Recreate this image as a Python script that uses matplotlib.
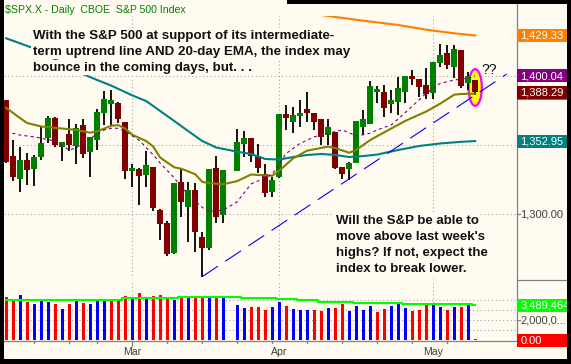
"""SPX daily candles (Feb-May 2008) with MAs, uptrend line and volume pane,
redrawn in the TeleChart look. Writes out.png (571x364)."""
import numpy as np
import pandas as pd
import matplotlib
matplotlib.use("Agg")
import matplotlib.pyplot as plt
from matplotlib.patches import Ellipse, Rectangle

plt.rcParams["font.family"] = ["Liberation Sans", "DejaVu Sans"]

# sessions Feb 5 - May 9 2008; the chart keeps an empty slot for Good Friday (Mar 21)
dates = pd.bdate_range("2008-02-05", "2008-05-09").drop(pd.Timestamp("2008-02-18"))
nan = np.nan

opens = [1382.6, 1342.2, 1325.3, 1339.3, 1332.8, 1341.6, 1355.0, 1369.4, 1348.9, 1358.1,
         1349.4, 1364.6, 1345.3, 1353.7, 1373.0, 1379.7, 1380.7, 1366.7, 1331.5, 1332.5,
         1328.4, 1334.4, 1303.1, 1293.9, 1272.2, 1323.4, 1305.5, 1317.6, 1283.4, 1275.4,
         1333.3, 1299.5, nan, 1331.3, 1350.6, 1355.0, 1342.2, 1329.1, 1316.3, 1327.2,
         1372.5, 1367.0, 1371.0, 1376.1, 1373.0, 1368.7, 1357.3, 1359.7, 1334.0, 1332.5,
         1337.3, 1363.3, 1365.1, 1388.6, 1388.6, 1379.7, 1381.4, 1388.6, 1400.0, 1397.6,
         1393.5, 1387.5, 1409.6, 1416.4, 1406.3, 1418.8, 1394.7, 1397.1]
highs = [1382.6, 1353.7, 1348.4, 1344.1, 1342.9, 1363.3, 1371.1, 1370.0, 1352.3, 1368.7,
         1365.3, 1368.7, 1356.0, 1375.9, 1389.2, 1389.9, 1381.0, 1366.7, 1336.4, 1333.3,
         1346.0, 1334.4, 1304.0, 1295.4, 1322.4, 1332.5, 1323.4, 1322.8, 1287.0, 1332.5,
         1342.4, 1332.0, nan, 1361.7, 1360.4, 1355.0, 1351.0, 1336.4, 1327.2, 1372.5,
         1379.0, 1377.4, 1382.6, 1388.6, 1373.0, 1368.7, 1368.7, 1359.7, 1334.0, 1338.0,
         1367.7, 1375.4, 1396.6, 1392.8, 1393.5, 1389.9, 1399.0, 1400.0, 1404.4, 1397.6,
         1405.6, 1410.3, 1423.1, 1422.4, 1422.4, 1418.8, 1403.1, 1397.1]
lows = [1337.3, 1324.3, 1316.3, 1321.2, 1320.5, 1339.3, 1351.3, 1348.4, 1338.8, 1346.0,
        1336.4, 1340.5, 1327.2, 1346.5, 1364.6, 1364.6, 1366.0, 1325.7, 1320.0, 1306.7,
        1320.0, 1302.6, 1281.4, 1269.8, 1271.5, 1298.3, 1280.2, 1273.0, 1254.9, 1274.5,
        1293.9, 1293.9, nan, 1331.0, 1341.6, 1338.0, 1329.6, 1312.7, 1312.7, 1326.5,
        1361.0, 1359.0, 1363.4, 1367.0, 1361.0, 1350.0, 1350.1, 1333.0, 1325.5, 1324.8,
        1337.0, 1357.3, 1365.0, 1380.3, 1370.6, 1373.0, 1371.8, 1380.7, 1393.5, 1384.6,
        1383.6, 1383.6, 1406.3, 1404.8, 1398.3, 1391.1, 1389.9, 1386.3]
closes = [1338.0, 1327.2, 1339.3, 1332.0, 1341.2, 1351.3, 1369.4, 1350.1, 1352.3, 1350.1,
          1362.2, 1343.6, 1355.7, 1374.2, 1383.4, 1382.6, 1368.7, 1331.5, 1333.7, 1327.7,
          1335.6, 1304.8, 1293.0, 1271.3, 1322.4, 1308.7, 1317.6, 1287.4, 1275.4, 1332.5,
          1298.3, 1332.0, nan, 1352.5, 1355.0, 1342.2, 1333.3, 1315.6, 1324.8, 1372.5,
          1369.4, 1371.9, 1373.0, 1373.5, 1367.0, 1356.1, 1362.9, 1333.7, 1329.1, 1336.9,
          1367.7, 1368.7, 1392.8, 1390.4, 1376.6, 1382.6, 1391.1, 1400.0, 1397.6, 1392.3,
          1387.0, 1410.3, 1415.2, 1408.0, 1419.3, 1392.8, 1400.0, 1388.29]

# volume in millions of shares, and its average (green line)
volumes = [4.33, 4.07, 4.53, 3.83, 3.60, 4.03, 3.80, 3.60, 3.10, 3.60,
           3.90, 3.73, 3.60, 3.90, 4.10, 3.93, 3.93, 4.43, 4.10, 4.73,
           4.23, 4.37, 4.50, 4.23, 4.00, 4.23, 4.27, 4.40, 4.23, 4.23,
           4.23, 4.23, nan, 3.53, 3.23, 3.33, 3.33, 3.03, 3.33, 3.83,
           3.43, 3.10, 3.03, 3.03, 3.03, 2.93, 3.20, 3.23, 3.63, 2.90,
           3.43, 3.03, 3.43, 2.83, 3.13, 3.43, 3.70, 3.20, 2.93, 3.03,
           3.63, 3.60, 3.33, 3.03, 3.33, 3.33, 3.73, 0.0]
vol_avg = [4.05, 4.05, 4.05, 4.05, 4.05, 4.05, 4.05, 4.05, 4.05, 4.05,
           4.05, 4.05, 4.05, 4.05, 4.05, 4.05, 4.05, 4.20, 4.20, 4.20,
           4.20, 4.20, 4.20, 4.20, 4.20, 4.33, 4.33, 4.33, 4.33, 4.33,
           4.33, 4.33, 4.33, 4.33, 4.25, 4.25, 4.25, 4.25, 4.25, 4.15,
           4.15, 4.08, 3.98, 3.98, 3.98, 3.82, 3.82, 3.82, 3.82, 3.82,
           3.72, 3.72, 3.72, 3.72, 3.72, 3.72, 3.72, 3.60, 3.60, 3.60,
           3.60, 3.60, 3.60, 3.60, 3.60, 3.60, 3.60, 3.489464]

# moving averages: (slot, value) vertices
ma50_x = [0, 4, 11, 13, 15, 18, 20, 22, 24, 26, 28, 30, 33, 35, 37, 39, 41, 43, 45,
          47, 49, 51, 53, 56, 59, 62, 65, 67]
ma50_y = [1427.3, 1419.9, 1401.4, 1397.1, 1393.1, 1386.0, 1381.9, 1374.7, 1367.5, 1360.2,
          1353.0, 1348.3, 1345.3, 1343.6, 1340.0, 1339.6, 1341.4, 1342.9, 1343.6, 1342.9,
          1341.4, 1342.1, 1343.2, 1346.5, 1349.4, 1351.2, 1352.4, 1352.95]
ema20_x = [0, 2, 3, 5, 8, 10, 12, 13, 15, 16, 17, 18, 20, 21, 22, 24, 25, 27, 28, 29,
           31, 33, 35, 36, 38, 39, 41, 43, 46, 47, 49, 50, 52, 53, 55, 57, 60, 62, 64, 65, 67]
ema20_y = [1377.0, 1369.5, 1366.0, 1363.5, 1362.0, 1361.0, 1359.0, 1360.0, 1364.0, 1364.5,
           1362.0, 1357.5, 1353.0, 1349.0, 1341.0, 1334.0, 1333.0, 1329.0, 1323.5, 1322.5,
           1321.7, 1324.0, 1328.8, 1328.4, 1327.9, 1331.5, 1340.5, 1346.0, 1349.0, 1347.9,
           1344.5, 1346.5, 1353.7, 1356.5, 1362.0, 1367.5, 1374.3, 1380.0, 1386.5, 1387.0, 1387.2]
ma10_x = [0, 2, 4, 5, 7, 9, 10, 12, 14, 15, 16, 17, 19, 21, 22, 24, 25, 28, 29, 31,
          33, 35, 37, 38, 40, 42, 44, 46, 48, 49, 50, 52, 53, 55, 57, 60, 62, 64, 66, 67]
ma10_y = [1359.7, 1357.3, 1356.0, 1355.0, 1353.0, 1346.5, 1348.0, 1355.0, 1361.0, 1362.2,
          1362.2, 1360.0, 1353.5, 1343.0, 1337.0, 1326.5, 1319.5, 1305.0, 1302.0, 1303.0,
          1309.0, 1322.0, 1326.5, 1329.0, 1344.0, 1351.3, 1356.0, 1358.6, 1361.0, 1359.0,
          1356.5, 1358.6, 1361.0, 1364.6, 1373.5, 1387.5, 1394.7, 1397.1, 1398.5, 1400.04]
ma200_x = [40, 46, 51, 56, 60, 64, 67]
ma200_y = [1448.0, 1443.4, 1440.0, 1436.9, 1433.5, 1430.9, 1429.33]

# intermediate-term uptrend line (from the March low)
trend_x = [28, 71.5]
trend_y = [1254.9, 1401.4]

CREAM = "#fffbf0"
W, H = 571, 364

o, h, l, c = (np.array(v, dtype=float) for v in (opens, highs, lows, closes))
vol = np.array(volumes, dtype=float)
x = np.arange(len(dates))
ok = ~np.isnan(c)
month_pos = [i for i in range(1, len(dates)) if dates[i].month != dates[i - 1].month]
week_pos = [i for i in range(1, len(dates)) if dates[i].week != dates[i - 1].week]

fig = plt.figure(figsize=(W / 100, H / 100), dpi=100, facecolor=CREAM)


def frame(x0, y0, x1, y1):
    return [x0 / W, 1 - y1 / H, (x1 - x0) / W, (y1 - y0) / H]


ax = fig.add_axes(frame(4, 16, 516, 279))
axv = fig.add_axes(frame(4, 280, 516, 340))
for a in (ax, axv):
    a.set_facecolor(CREAM)
    for s in a.spines.values():
        s.set_visible(False)
    a.set_xticks(month_pos)
    a.tick_params(length=0, labelbottom=False, labelleft=False)
    a.grid(True, color="#a0a0a0", ls=(0, (1, 2.6)), lw=0.75)
    a.set_axisbelow(True)
    a.set_xlim(-0.31, 72.83)
ax.set_ylim(1253.2, 1443.4)
ax.set_yticks([1300, 1350, 1400])
axv.set_ylim(0, 6)
axv.set_yticks([1, 2, 3, 4])

# the last session, circled
ax.add_patch(Ellipse((x[-1], (h[-1] + l[-1]) / 2), 1.9, 26.5, fc="#ffff00",
                     ec="#ff00ff", lw=1.6, zorder=1.5))

up = c >= o
ax.vlines(x[ok], l[ok], h[ok], color="black", lw=1.3, zorder=3)
ax.bar(x[ok], np.maximum(np.abs(c - o), 0.9)[ok], bottom=np.minimum(o, c)[ok], width=0.8,
       color=np.where(up, "#008000", "#800000")[ok], lw=0, zorder=4)

ax.plot(ma200_x, ma200_y, color="#ff8000", lw=1.5, zorder=5)
ax.plot(ma50_x, ma50_y, color="#008080", lw=1.5, zorder=5)
ax.plot(ema20_x, ema20_y, color="#808000", lw=1.5, zorder=5)
ax.plot(ma10_x, ma10_y, color="#800080", lw=0.8, ls=(0, (2.8, 2.8)), zorder=5)
ax.plot(trend_x, trend_y, color="#0000ff", lw=0.8, ls=(0, (17, 8)), zorder=6)

prev = pd.Series(c).ffill().shift(1).fillna(o[0]).to_numpy()
vup = c >= prev
okv = ~np.isnan(vol)
axv.bar(x[okv], np.maximum(vol, 0.15)[okv], width=0.45,
        color=np.where(vup, "#0000ff", "#ff0000")[okv], lw=0, zorder=3)
axv.plot(x, vol_avg, color="#00ff00", lw=1.5, drawstyle="steps-mid", zorder=4)

# overlay in pixel coordinates: right-hand scale, captions, frame
ov = fig.add_axes([0, 0, 1, 1], zorder=10)
ov.set_xlim(0, W)
ov.set_ylim(H, 0)
ov.axis("off")
ov.patch.set_visible(False)


def ypx(a, v):
    return H - a.transData.transform((0, v))[1]


def xpx(a, v):
    return a.transData.transform((v, 0))[0]


GRAY = "#808080"
ov.plot([516.5, 516.5], [0, 340.5], color=GRAY, lw=0.9)
ov.plot([516.5, 567], [279.5, 279.5], color=GRAY, lw=0.9)
ov.plot([4, 516.5], [340.5, 340.5], color=GRAY, lw=0.9)
for p in week_pos:
    ln = 5 if p in month_pos else 2.5
    ov.plot([xpx(axv, p)] * 2, [340.5, 340.5 + ln], color=GRAY, lw=0.9)
for p in month_pos:
    ov.text(xpx(axv, p), 352, dates[p].strftime("%b"), color="#404040", fontsize=7.6,
            ha="center", va="center")

tag_z = [3]


def tag(a, v, text, bg, fg="white"):
    y = ypx(a, v)
    z = tag_z[0]
    tag_z[0] += 2
    ov.add_patch(Rectangle((517, y - 6.5), 50, 13, fc=bg, ec="none", zorder=z))
    ov.text(520.5, y + 0.5, text, color=fg, fontsize=8, ha="left", va="center", zorder=z + 1)


tag(ax, ma200_y[-1], f"{ma200_y[-1]:,.2f}", "#ff8000")
tag(ax, ma10_y[-1], f"{ma10_y[-1]:,.2f}", "#800080")
tag(ax, ema20_y[-1], f"{ema20_y[-1]:,.2f}", "#808000")
tag(ax, c[-1], f"{c[-1]:,.2f}", "#800000")
tag(ax, ma50_y[-1], f"{ma50_y[-1]:,.2f}", "#008080")
tag(axv, vol_avg[-1], f"{vol_avg[-1] * 1e6:,.0f}", "#00ff00")
tag(axv, vol[-1], f"{vol[-1]:,.2f}", "#ff0000")

y13 = ypx(ax, 1300)
ov.plot([516.5, 519.5], [y13, y13], color=GRAY, lw=0.9)
ov.text(520.5, y13 + 0.5, "1,300.00", color="#404040", fontsize=8, ha="left", va="center")
y2m = ypx(axv, 2)
ov.plot([516.5, 519.5], [y2m, y2m], color=GRAY, lw=0.9)
ov.text(520.5, y2m + 0.5, "2,000,0...", color="#404040", fontsize=8, ha="left", va="center")

ov.text(5, 10, "$SPX.X - Daily  CBOE  S&P 500 Index", color="#008000", fontsize=7.6,
        ha="left", va="center")

note1 = ["With the S&P 500 at support of its intermediate-",
         "term uptrend line AND 20-day EMA, the index may",
         "bounce in the coming days, but. . ."]
for k, line in enumerate(note1):
    ov.text(33, 38.8 + 16 * k, line, fontsize=9.6, fontweight="bold", color="#111111",
            ha="left", va="baseline",
            bbox=dict(fc=CREAM, ec="none", boxstyle="square,pad=0.12"))
note2 = ["Will the S&P be able to",
         "move above last week's",
         "highs? If not, expect the",
         "index to break lower."]
for k, line in enumerate(note2):
    ov.text(335.5, 224 + 15.9 * k, line, fontsize=9.5, fontweight="bold", color="#111111",
            ha="left", va="baseline",
            bbox=dict(fc=CREAM, ec="none", boxstyle="square,pad=0.12"))
ov.text(481.5, 74.3, "??", fontsize=10, color="#111111", ha="left", va="baseline")

for r in [(0, 0, 4, H), (567, 0, 4, H), (0, 359, W, 5), (287, 0, W - 287, 4)]:
    ov.add_patch(Rectangle(r[:2], r[2], r[3], fc="black", ec="none", zorder=40))

fig.savefig("out.png", dpi=100, facecolor=fig.get_facecolor())
